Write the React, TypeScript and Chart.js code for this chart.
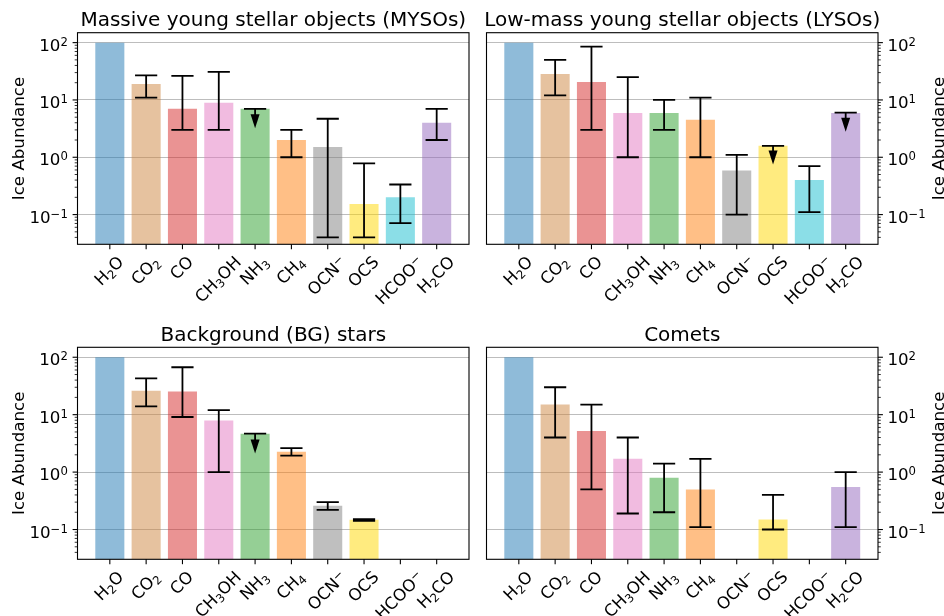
import React, { useEffect, useRef } from 'react';
import { Chart, registerables } from 'chart.js';

Chart.register(...registerables);

// ---------------- data ----------------
const categories = ['H₂O', 'CO₂', 'CO', 'CH₃OH', 'NH₃', 'CH₄', 'OCN⁻', 'OCS', 'HCOO⁻', 'H₂CO'];
const barColors = [
  'rgba(31,119,180,0.5)',
  'rgba(205,133,63,0.5)',
  'rgba(214,39,40,0.5)',
  'rgba(227,119,194,0.5)',
  'rgba(44,160,44,0.5)',
  'rgba(255,127,14,0.5)',
  'rgba(127,127,127,0.5)',
  'rgba(255,215,0,0.5)',
  'rgba(23,190,207,0.5)',
  'rgba(148,103,189,0.5)',
];

const yTickValues = [0.1, 1, 10, 100];
const yTickLabels = ['10⁻¹', '10⁰', '10¹', '10²'];
const yMin = 0.0303;
const yMax = 149;
const yTitle = 'Ice Abundance';

const titles = [
  'Massive young stellar objects (MYSOs)',
  'Low-mass young stellar objects (LYSOs)',
  'Background (BG) stars',
  'Comets',
];

// MYSOs
const mysoValues = [100, 19, 7.0, 8.9, 7.0, 2.0, 1.51, 0.153, 0.20, 4.0];
const mysoLow = [null, 11, 3.0, 3.0, null, 1.0, 0.040, 0.040, 0.0707, 2.0];
const mysoHigh = [null, 26.9, 26.2, 31, 7.0, 3.0, 4.7, 0.78, 0.335, 7.0];
const mysoArrowTip = [null, null, null, null, 3.2, null, null, null, null, null];

// LYSOs
const lysoValues = [100, 28.4, 20.6, 5.9, 5.9, 4.5, 0.59, 1.58, 0.40, 5.9];
const lysoLow = [null, 12, 3.0, 1.0, 3.0, 1.0, 0.10, null, 0.11, null];
const lysoHigh = [null, 50, 85, 25, 10, 11, 1.1, 1.58, 0.70, 6.0];
const lysoArrowTip = [null, null, null, null, null, null, null, 0.75, null, 2.8];

// Background stars
const bgValues = [100, 26.2, 25.2, 7.9, 4.67, 2.26, 0.259, 0.148, null, null];
const bgLow = [null, 14, 9.1, 1.0, null, 1.93, 0.22, 0.141, null, null];
const bgHigh = [null, 43, 67, 12, 4.67, 2.62, 0.30, 0.151, null, null];
const bgArrowTip = [null, null, null, null, 2.1, null, null, null, null, null];

// Comets
const cometValues = [100, 15, 5.2, 1.7, 0.8, 0.5, null, 0.15, null, 0.55];
const cometLow = [null, 4.0, 0.5, 0.19, 0.2, 0.11, null, 0.10, null, 0.11];
const cometHigh = [null, 30, 15, 4.0, 1.4, 1.7, null, 0.40, null, 1.0];
const cometArrowTip = [null, null, null, null, null, null, null, null, null, null];

// ---------------- layout ----------------
const FONT = '"DejaVu Sans", "Noto Sans", sans-serif';
const BASE = 16.67;
const SMALL = 11.67;
const TITLE = 20;

const colL = { L: 77.5, R: 469 };
const colR = { L: 486.5, R: 878 };
const rowT = { T: 32.7, B: 244.3 };
const rowB = { T: 347.3, B: 559.3 };

type Panel = {
  title: string;
  values: (number | null)[];
  low: (number | null)[];
  high: (number | null)[];
  tip: (number | null)[];
  side: 'left' | 'right';
  col: { L: number; R: number };
  row: { T: number; B: number };
  ox: number; oy: number; cw: number; ch: number;
};

const panels: Panel[] = [
  { title: titles[0], values: mysoValues, low: mysoLow, high: mysoHigh, tip: mysoArrowTip, side: 'left', col: colL, row: rowT, ox: 0, oy: 0, cw: 478, ch: 310 },
  { title: titles[1], values: lysoValues, low: lysoLow, high: lysoHigh, tip: lysoArrowTip, side: 'right', col: colR, row: rowT, ox: 478, oy: 0, cw: 466, ch: 310 },
  { title: titles[2], values: bgValues, low: bgLow, high: bgHigh, tip: bgArrowTip, side: 'left', col: colL, row: rowB, ox: 0, oy: 310, cw: 478, ch: 306 },
  { title: titles[3], values: cometValues, low: cometLow, high: cometHigh, tip: cometArrowTip, side: 'right', col: colR, row: rowB, ox: 478, oy: 310, cw: 466, ch: 306 },
];

// ---------------- rich text helpers ----------------
const subMap: Record<string, string> = { '₀': '0', '₁': '1', '₂': '2', '₃': '3', '₄': '4', '₅': '5', '₆': '6', '₇': '7', '₈': '8', '₉': '9' };
const supMap: Record<string, string> = { '⁰': '0', '¹': '1', '²': '2', '³': '3', '⁴': '4', '⁵': '5', '⁶': '6', '⁷': '7', '⁸': '8', '⁹': '9', '⁻': '−' };

type Seg = { t: string; m: number };
function parseRich(s: string): Seg[] {
  const segs: Seg[] = [];
  for (const ch of Array.from(s)) {
    const m = subMap[ch] !== undefined ? 1 : supMap[ch] !== undefined ? 2 : 0;
    const t = m === 1 ? subMap[ch] : m === 2 ? supMap[ch] : ch;
    const last = segs[segs.length - 1];
    if (last && last.m === m) last.t += t;
    else segs.push({ t, m });
  }
  return segs;
}
function setFont(ctx: CanvasRenderingContext2D, m: number) {
  ctx.font = `${m ? SMALL : BASE}px ${FONT}`;
}
function richWidth(ctx: CanvasRenderingContext2D, segs: Seg[]) {
  let w = 0;
  for (const s of segs) {
    setFont(ctx, s.m);
    w += ctx.measureText(s.t).width;
  }
  return w;
}
function drawRich(ctx: CanvasRenderingContext2D, segs: Seg[], x: number, y: number) {
  let cx = x;
  ctx.textAlign = 'left';
  ctx.textBaseline = 'alphabetic';
  for (const s of segs) {
    setFont(ctx, s.m);
    const dy = s.m === 1 ? 3.0 : s.m === 2 ? -4.9 : 0;
    ctx.fillText(s.t, cx, y + dy);
    cx += ctx.measureText(s.t).width;
  }
}

function makePlugin(p: Panel) {
  return {
    id: 'decor',
    afterDraw(chart: any) {
      const ctx: CanvasRenderingContext2D = chart.ctx;
      const { left, right, top, bottom } = chart.chartArea;
      const xs = chart.scales.x;
      const ys = chart.scales.y;
      ctx.save();

      // error bars & upper limits
      ctx.strokeStyle = '#000';
      ctx.fillStyle = '#000';
      ctx.lineWidth = 1.8;
      const cap = 11.1;
      p.high.forEach((hi, i) => {
        if (hi == null) return;
        const x = xs.getPixelForValue(i);
        const yHi = ys.getPixelForValue(hi);
        const tip = p.tip[i];
        if (tip != null) {
          const yTip = ys.getPixelForValue(tip);
          const head = 14;
          ctx.beginPath();
          ctx.moveTo(x, yHi);
          ctx.lineTo(x, yTip - head + 1);
          ctx.moveTo(x - cap, yHi);
          ctx.lineTo(x + cap, yHi);
          ctx.stroke();
          ctx.beginPath();
          ctx.moveTo(x - 4.5, yTip - head);
          ctx.lineTo(x + 4.5, yTip - head);
          ctx.lineTo(x, yTip);
          ctx.closePath();
          ctx.fill();
        } else {
          const lo = p.low[i];
          const yLo = ys.getPixelForValue(lo as number);
          ctx.beginPath();
          ctx.moveTo(x, yHi);
          ctx.lineTo(x, yLo);
          ctx.moveTo(x - cap, yHi);
          ctx.lineTo(x + cap, yHi);
          ctx.moveTo(x - cap, yLo);
          ctx.lineTo(x + cap, yLo);
          ctx.stroke();
        }
      });

      // spines
      ctx.strokeStyle = '#000';
      ctx.lineWidth = 1.1;
      ctx.strokeRect(left, top, right - left, bottom - top);

      // x ticks and labels
      categories.forEach((lab, i) => {
        const x = xs.getPixelForValue(i);
        ctx.beginPath();
        ctx.moveTo(x, bottom);
        ctx.lineTo(x, bottom + 4.9);
        ctx.stroke();
        const segs = parseRich(lab);
        const w = richWidth(ctx, segs);
        const h = BASE;
        const d = 0.236 * BASE;
        const diag = (w + h) * Math.SQRT1_2;
        const cx = x;
        const cy = bottom + 9.72 + diag / 2;
        ctx.save();
        ctx.translate(cx, cy);
        ctx.rotate(-Math.PI / 4);
        ctx.fillStyle = '#000';
        drawRich(ctx, segs, -w / 2, h / 2 - d);
        ctx.restore();
      });

      // y ticks
      const axisX = p.side === 'left' ? left : right;
      const dir = p.side === 'left' ? -1 : 1;
      ctx.lineWidth = 1.1;
      yTickValues.forEach((v) => {
        const y = ys.getPixelForValue(v);
        ctx.beginPath();
        ctx.moveTo(axisX, y);
        ctx.lineTo(axisX + dir * 4.9, y);
        ctx.stroke();
      });
      ctx.lineWidth = 0.8;
      for (let k = -2; k <= 2; k++) {
        for (let m = 2; m <= 9; m++) {
          const v = m * Math.pow(10, k);
          if (v < yMin || v > yMax) continue;
          const y = ys.getPixelForValue(v);
          ctx.beginPath();
          ctx.moveTo(axisX, y);
          ctx.lineTo(axisX + dir * 2.8, y);
          ctx.stroke();
        }
      }
      // y tick labels
      ctx.fillStyle = '#000';
      yTickLabels.forEach((lab, i) => {
        const y = ys.getPixelForValue(yTickValues[i]);
        const segs = parseRich(lab);
        const w = richWidth(ctx, segs);
        const x0 = p.side === 'left' ? axisX - 9.7 - w : axisX + 9.4;
        drawRich(ctx, segs, x0, y + 8);
      });

      // y axis title
      ctx.save();
      ctx.font = `${BASE}px ${FONT}`;
      ctx.textAlign = 'center';
      ctx.textBaseline = 'alphabetic';
      const tx = p.side === 'left' ? 23.5 - p.ox : 944 - p.ox;
      ctx.translate(tx, (top + bottom) / 2);
      ctx.rotate(-Math.PI / 2);
      ctx.fillText(yTitle, 0, 0);
      ctx.restore();

      // title
      ctx.font = `${TITLE}px ${FONT}`;
      ctx.textAlign = 'center';
      ctx.textBaseline = 'alphabetic';
      ctx.fillText(p.title, (left + right) / 2, top - 6.8);

      ctx.restore();
    },
  };
}

function PanelChart({ p }: { p: Panel }) {
  const ref = useRef<HTMLCanvasElement>(null);
  useEffect(() => {
    const canvas = ref.current;
    if (!canvas) return;
    const Wy = 50;
    const Hx = 50;
    const L = p.col.L - p.ox;
    const R = p.col.R - p.ox;
    const T = p.row.T - p.oy;
    const B = p.row.B - p.oy;
    const padding = {
      left: p.side === 'left' ? L - Wy : L,
      right: p.side === 'left' ? p.cw - R : p.cw - R - Wy,
      top: T,
      bottom: p.ch - B - Hx,
    };
    const data = p.values
      .map((v, i) => (v == null ? null : { x: i, y: v }))
      .filter((d) => d !== null);
    const chart = new Chart(canvas, {
      type: 'bar',
      data: {
        datasets: [
          {
            data: data as any,
            backgroundColor: (c: any) => barColors[c.raw ? c.raw.x : 0],
            borderWidth: 0,
            barPercentage: 0.8,
            categoryPercentage: 1.0,
          },
        ],
      },
      options: {
        responsive: false,
        animation: false,
        devicePixelRatio: 1,
        events: [],
        layout: { padding },
        plugins: {
          legend: { display: false },
          title: { display: false },
          tooltip: { enabled: false },
        },
        scales: {
          x: {
            type: 'linear',
            offset: false,
            min: -0.89,
            max: 9.89,
            afterBuildTicks: (s: any) => {
              s.ticks = categories.map((_, i) => ({ value: i }));
            },
            afterFit: (s: any) => {
              s.height = Hx;
            },
            ticks: { display: false },
            grid: { display: false, offset: false },
            border: { display: false },
          },
          y: {
            type: 'logarithmic',
            position: p.side,
            min: yMin,
            max: yMax,
            z: 1,
            afterBuildTicks: (s: any) => {
              s.ticks = yTickValues.map((v) => ({ value: v, major: true }));
            },
            afterFit: (s: any) => {
              s.width = Wy;
            },
            ticks: { display: false },
            grid: { color: '#bdbdbd', lineWidth: 1.1, drawTicks: false },
            border: { display: false },
          },
        },
      } as any,
      plugins: [makePlugin(p)],
    });
    return () => chart.destroy();
  }, [p]);
  return (
    <canvas
      ref={ref}
      width={p.cw}
      height={p.ch}
      style={{ position: 'absolute', left: p.ox, top: p.oy, width: p.cw, height: p.ch }}
    />
  );
}

export default function App() {
  return (
    <div style={{ position: 'absolute', left: 0, top: 0, width: 944, height: 616, background: '#ffffff', overflow: 'hidden' }}>
      {panels.map((p, i) => (
        <PanelChart key={i} p={p} />
      ))}
    </div>
  );
}
